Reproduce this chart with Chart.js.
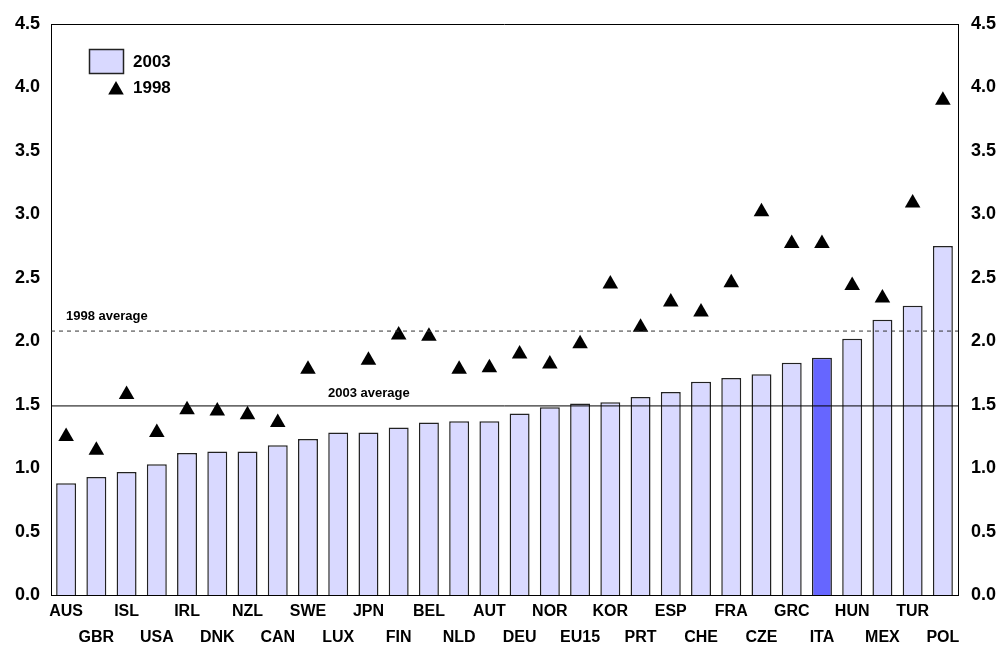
<!DOCTYPE html>
<html>
<head>
<meta charset="utf-8">
<script src="https://cdn.jsdelivr.net/npm/chart.js@4/dist/chart.umd.min.js"></script>
<style>
  html, body { margin: 0; padding: 0; background: #fff; }
  #wrap { width: 1002px; height: 648px; }
</style>
</head>
<body>
<div id="wrap"><canvas id="oecdChart" width="1002" height="648"></canvas></div>
<script>
// countries, sorted by the 2003 value
const countries = ['AUS', 'GBR', 'ISL', 'USA', 'IRL', 'DNK', 'NZL', 'CAN', 'SWE', 'LUX',
                   'JPN', 'FIN', 'BEL', 'NLD', 'AUT', 'DEU', 'NOR', 'EU15', 'KOR', 'PRT',
                   'ESP', 'CHE', 'FRA', 'CZE', 'GRC', 'ITA', 'HUN', 'MEX', 'TUR', 'POL'];
const values2003 = [0.88, 0.93, 0.97, 1.03, 1.12, 1.13, 1.13, 1.18, 1.23, 1.28,
                    1.28, 1.32, 1.36, 1.37, 1.37, 1.43, 1.48, 1.51, 1.52, 1.56,
                    1.60, 1.68, 1.71, 1.74, 1.83, 1.87, 2.02, 2.17, 2.28, 2.75];
const values1998 = [1.25, 1.14, 1.58, 1.28, 1.46, 1.45, 1.42, 1.36, 1.78, null,
                    1.85, 2.05, 2.04, 1.78, 1.79, 1.90, 1.82, 1.98, 2.45, 2.11,
                    2.31, 2.23, 2.46, 3.02, 2.77, 2.77, 2.44, 2.34, 3.09, 3.90];
const average1998 = 2.08;
const average2003 = 1.49;
const yTicks = [0, 0.5, 1, 1.5, 2, 2.5, 3, 3.5, 4, 4.5];
const highlight = 'ITA';

const barColor = 'rgb(217, 217, 255)';
const highlightColor = 'rgb(102, 102, 255)';

var ctx = document.getElementById('oecdChart').getContext('2d');

// average lines, frame and legend drawn on top of the datasets
const extras = {
    id: 'extras',
    afterDatasetsDraw(chart) {
        const c = chart.ctx;
        const area = chart.chartArea;
        const y = chart.scales.y;
        c.save();

        // 1998 average, dashed
        let py = y.getPixelForValue(average1998);
        c.strokeStyle = '#333';
        c.lineWidth = 1;
        c.setLineDash([4, 4]);
        c.beginPath();
        c.moveTo(area.left, py);
        c.lineTo(area.right, py);
        c.stroke();

        // 2003 average, solid
        py = y.getPixelForValue(average2003);
        c.setLineDash([]);
        c.strokeStyle = '#000';
        c.beginPath();
        c.moveTo(area.left, py);
        c.lineTo(area.right, py);
        c.stroke();

        // top frame line
        c.beginPath();
        c.moveTo(area.left, area.top + 0.5);
        c.lineTo(area.right, area.top + 0.5);
        c.stroke();

        c.fillStyle = '#000';
        c.font = 'bold 13px "Liberation Sans", Arial, sans-serif';
        c.textBaseline = 'middle';
        c.textAlign = 'left';
        c.fillText('1998 average', 66, y.getPixelForValue(average1998) - 15);
        c.fillText('2003 average', 328, y.getPixelForValue(average2003) - 13);

        // legend
        c.fillStyle = barColor;
        c.fillRect(89.5, 49.5, 34, 24);
        c.strokeStyle = '#222';
        c.lineWidth = 1.5;
        c.strokeRect(89.5, 49.5, 34, 24);
        c.fillStyle = '#000';
        Chart.helpers.drawPoint(c, { pointStyle: 'triangle', radius: 9, borderWidth: 0 }, 116, 90);
        c.fillStyle = '#000';
        c.font = 'bold 17px "Liberation Sans", Arial, sans-serif';
        c.fillText('2003', 133, 62);
        c.fillText('1998', 133, 88);
        c.restore();
    }
};

var chart = new Chart(ctx, {
    type: 'bar',
    data: {
        labels: countries,
        datasets: [
            {
                type: 'line',
                label: '1998',
                data: values1998,
                showLine: false,
                pointStyle: 'triangle',
                pointRadius: 9,
                pointBorderWidth: 0,
                pointBackgroundColor: '#000',
                pointBorderColor: '#000',
                order: 0
            },
            {
                label: '2003',
                data: values2003,
                backgroundColor: countries.map(c => c === highlight ? highlightColor : barColor),
                borderColor: '#222',
                borderWidth: 1.5,
                barPercentage: 0.66,
                categoryPercentage: 1,
                order: 1
            }
        ]
    },
    options: {
        responsive: false,
        animation: false,
        layout: { padding: { top: 24, left: 0, right: 0, bottom: 0 } },
        plugins: {
            legend: { display: false },
            tooltip: { enabled: false }
        },
        scales: {
            x: {
                offset: true,
                grid: { display: false, drawTicks: false },
                border: { color: '#000', width: 1 },
                ticks: {
                    autoSkip: false,
                    maxRotation: 0,
                    padding: 4,
                    color: '#000',
                    font: {
                        family: '"Liberation Sans", Arial, sans-serif',
                        size: 16,
                        lineHeight: 26 / 16,
                        weight: 'bold'
                    },
                    // staggered labels: even ones on the first row, odd ones on the second
                    callback: (v, i) => i % 2 === 0 ? [countries[i], ''] : ['', countries[i]]
                },
                afterFit: s => { s.height = 53; }
            },
            y: {
                position: 'left',
                min: 0,
                max: 4.5,
                afterBuildTicks: s => { s.ticks = yTicks.map(v => ({ value: v })); },
                grid: { display: false, drawTicks: false },
                border: { color: '#000', width: 1 },
                ticks: {
                    padding: 11,
                    color: '#000',
                    font: { family: '"Liberation Sans", Arial, sans-serif', size: 18, weight: 'bold' },
                    callback: v => v.toFixed(1)
                },
                afterFit: s => { s.width = 51; }
            },
            y2: {
                position: 'right',
                min: 0,
                max: 4.5,
                afterBuildTicks: s => { s.ticks = yTicks.map(v => ({ value: v })); },
                grid: { display: false, drawTicks: false },
                border: { color: '#000', width: 1 },
                ticks: {
                    padding: 13,
                    color: '#000',
                    font: { family: '"Liberation Sans", Arial, sans-serif', size: 18, weight: 'bold' },
                    callback: v => v.toFixed(1)
                },
                afterFit: s => { s.width = 44; }
            }
        }
    },
    plugins: [extras]
});
</script>
</body>
</html>
